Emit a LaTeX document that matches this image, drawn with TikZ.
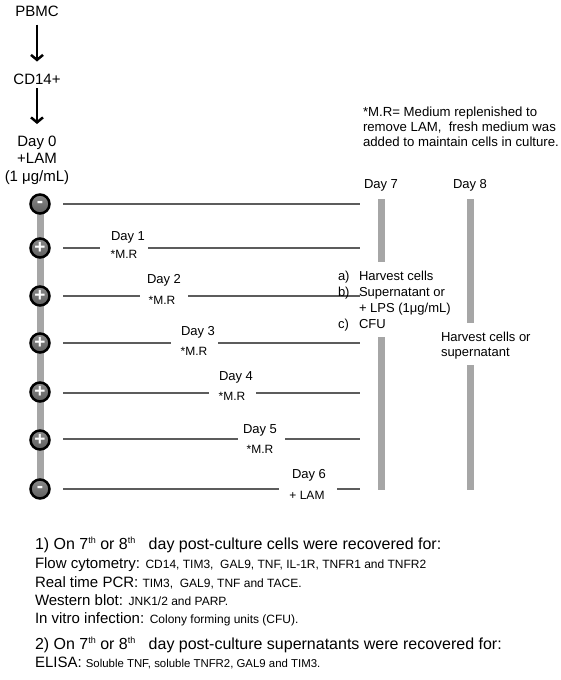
\documentclass[tikz,border=0pt]{standalone}
\usepackage{fontspec}
\setmainfont{Liberation Sans}
\usetikzlibrary{arrows.meta,backgrounds}
\definecolor{bargray}{HTML}{A6A6A6}
\definecolor{linegray}{HTML}{5C5C5C}
\definecolor{circtop}{HTML}{8A8A8A}
\definecolor{circbot}{HTML}{5E5E5E}
\newcommand{\fsize}[1]{\fontsize{#1}{#1}\selectfont}
\newcommand{\supth}{\raisebox{6pt}{\fsize{9}th}}
\begin{document}
\begin{tikzpicture}[x=1pt,y=-1pt,
  every node/.style={inner sep=0pt, outer sep=0pt},
  lbl/.style={font=\fsize{15}, anchor=base},
  day/.style={font=\fsize{13}, anchor=base},
  mr/.style={font=\fsize{12}, anchor=base},
  txt/.style={font=\fsize{13}, anchor=base west},
  fnote/.style={font=\fsize{13.2}, anchor=base west},
  big/.style={font=\fsize{15}, anchor=base west},
  head/.style={font=\fsize{16}, anchor=base west},
  row/.style={draw=linegray, line width=1.8pt},
  bar/.style={draw=bargray, line width=7pt},
  dot/.style={circle, draw=black, line width=2.5pt, top color=circtop, bottom color=circbot, minimum size=19pt, text=white, font=\bfseries\fsize{19}},
  flow/.style={-{Straight Barb[length=5pt,width=12pt]}, line width=2.5pt}
]
\useasboundingbox (0,0) rectangle (561,680);
% left column
\node[lbl] (pbmc) at (37,16.5) {PBMC};
\node[lbl] (cd14) at (37,84) {CD14+};
\node[lbl] (d0) at (37,146.5) {Day 0};
\node[lbl] (lam) at (37,163.5) {+LAM};
\node[lbl] (conc) at (37,181.5) {(1 μg/mL)};
\draw[flow, shorten <=8pt, shorten >=12pt] (pbmc.south) -- (cd14.north);
\draw[flow, shorten <=4pt, shorten >=12pt] (cd14.south) -- (d0.north);
% circles
\node[dot] (c0) at (40,204) {-};
\node[dot] (c1) at (40,248) {+};
\node[dot] (c2) at (40,296) {+};
\node[dot] (c3) at (40,343) {+};
\node[dot] (c4) at (40,392) {+};
\node[dot] (c5) at (40,440) {+};
\node[dot] (c6) at (40,489) {-};
\begin{scope}[on background layer]
\draw[bar] (c0.center) -- (c6.center);
\end{scope}
% row line end points
\coordinate (a0) at (63,204); \coordinate (e0) at (360,204);
\coordinate (a1) at (63,248); \coordinate (b1) at (100,248); \coordinate (g1) at (148,248); \coordinate (e1) at (360,248);
\coordinate (a2) at (63,296); \coordinate (b2) at (140,296); \coordinate (g2) at (188,296); \coordinate (e2) at (360,296);
\coordinate (a3) at (63,343); \coordinate (b3) at (171,343); \coordinate (g3) at (218,343); \coordinate (e3) at (360,343);
\coordinate (a4) at (63,393); \coordinate (b4) at (209,393); \coordinate (g4) at (256,393); \coordinate (e4) at (360,393);
\coordinate (a5) at (63,439); \coordinate (b5) at (238,439); \coordinate (g5) at (285,439); \coordinate (e5) at (360,439);
\coordinate (a6) at (63,489); \coordinate (b6) at (279,489); \coordinate (g6) at (337,489); \coordinate (e6) at (360,489);
\draw[row] (a0) -- (e0);
\draw[row] (a1) -- (b1) (g1) -- (e1);
\draw[row] (a2) -- (b2) (g2) -- (e2);
\draw[row] (a3) -- (b3) (g3) -- (e3);
\draw[row] (a4) -- (b4) (g4) -- (e4);
\draw[row] (a5) -- (b5) (g5) -- (e5);
\draw[row] (a6) -- (b6) (g6) -- (e6);
% day labels
\node[day] (day1) at (128,240) {Day 1};
\node[mr] (mr1) at (124,258) {*M.R};
\node[day] (day2) at (164,283) {Day 2};
\node[mr] (mr2) at (162,304) {*M.R};
\node[day] (day3) at (198,335) {Day 3};
\node[mr] (mr3) at (194,355) {*M.R};
\node[day] (day4) at (236,380) {Day 4};
\node[mr] (mr4) at (232,400) {*M.R};
\node[day] (day5) at (260,433) {Day 5};
\node[mr] (mr5) at (260,453) {*M.R};
\node[day] (day6) at (309,478) {Day 6};
\node[mr] (lam6) at (307,499) {+ LAM};
% day 7 / day 8
\node[day] (day7) at (381,188) {Day 7};
\node[day] (day8) at (470,188) {Day 8};
\coordinate (s7a) at (381,199); \coordinate (s7b) at (381,262);
\coordinate (s7c) at (381,337); \coordinate (s7d) at (381,490);
\coordinate (s8a) at (470,199); \coordinate (s8b) at (470,323);
\coordinate (s8c) at (470,365); \coordinate (s8d) at (470,490);
\draw[bar] (s7a) -- (s7b) (s7c) -- (s7d);
\draw[bar] (s8a) -- (s8b) (s8c) -- (s8d);
\node[txt] (la) at (338,280) {a)};
\node[txt] (ta) at (359,280) {Harvest cells};
\node[txt] (lb) at (338,296) {b)};
\node[txt] (tb) at (359,296) {Supernatant or};
\node[txt] (tb2) at (359,312) {+ LPS (1μg/mL)};
\node[txt] (lc) at (338,328) {c)};
\node[txt] (tc) at (359,328) {CFU};
\node[txt] (h1) at (441,341) {Harvest cells or};
\node[txt] (h2) at (441,356) {supernatant};
% footnote
\node[fnote] (fn1) at (363,116) {*M.R= Medium replenished to};
\node[fnote] (fn2) at (363,131) {remove LAM,\ \ fresh medium was};
\node[fnote] (fn3) at (363,146) {added to maintain cells in culture.};
% bottom text
\node[head] (t1) at (35,549) {1) On 7\supth{} or 8\supth\ \ \ day post-culture cells were recovered for:};
\node[big] (t2) at (35,568) {Flow cytometry: {\fsize{12}CD14, TIM3,\ \ GAL9, TNF, IL-1R, TNFR1 and TNFR2}};
\node[big] (t3) at (35,587) {Real time PCR: {\fsize{12}TIM3,\ \ GAL9, TNF and TACE.}};
\node[big] (t4) at (35,605) {Western blot: {\fsize{12}JNK1/2 and PARP.}};
\node[big] (t5) at (35,623) {In vitro infection: {\fsize{12}Colony forming units (CFU).}};
\node[head] (t6) at (35,649) {2) On 7\supth{} or 8\supth\ \ \ day post-culture supernatants were recovered for:};
\node[big] (t7) at (35,667) {ELISA: {\fsize{11.4}Soluble TNF, soluble TNFR2, GAL9 and TIM3.}};
\end{tikzpicture}
\end{document}
